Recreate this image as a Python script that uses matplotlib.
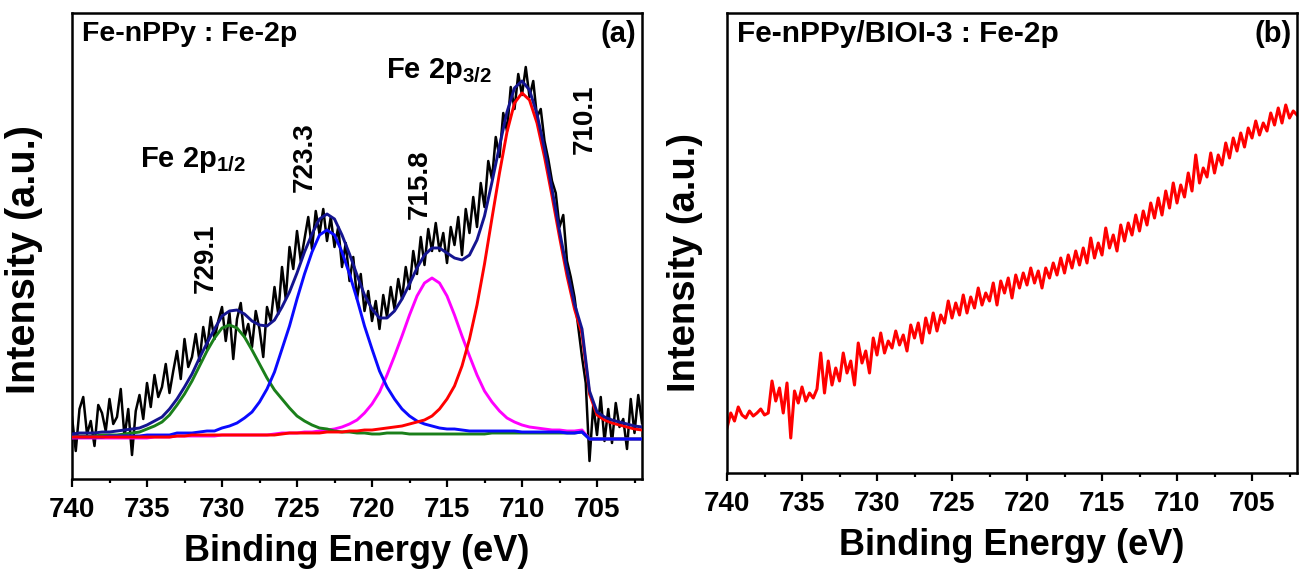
import numpy as np
import matplotlib
matplotlib.use("Agg")
import matplotlib.pyplot as plt
from matplotlib.ticker import MultipleLocator

plt.rcParams['font.family'] = ['Liberation Sans', 'DejaVu Sans']
plt.rcParams['font.weight'] = 'bold'
plt.rcParams['mathtext.fontset'] = 'custom'
plt.rcParams['mathtext.rm'] = 'Liberation Sans:bold'
plt.rcParams['mathtext.it'] = 'Liberation Sans:bold'
plt.rcParams['mathtext.bf'] = 'Liberation Sans:bold'

# ---------------- data (binding energy in eV, intensity in a.u.) ----------------
# fitted curves, sampled every 0.5 eV from 740 to 702
fit_energy = [740 - 0.5 * i for i in range(77)]

green_729 = [43, 43, 43, 43, 44, 44, 44, 45, 46, 47, 50, 53, 57, 64, 74, 85, 98, 113, 128, 141,
             151, 154, 151, 142, 129, 115, 101, 89, 80, 71, 63, 58, 54, 51, 50, 48, 47, 47, 46, 46,
             45, 45, 46, 46, 46, 45, 45, 45, 45, 45, 45, 45, 45, 45, 45, 45, 46, 46, 46, 46,
             46, 46, 46, 46, 46, 46, 46, 46, 47, 40, 40, 40, 40, 40, 40, 40, 40]
blue_723 = [42, 42, 42, 42, 42, 43, 43, 43, 43, 43, 44, 44, 44, 44, 46, 46, 46, 47, 48, 48,
            51, 53, 56, 61, 67, 77, 90, 107, 130, 153, 180, 205, 227, 244, 249, 244, 227, 205, 180, 153,
            130, 108, 92, 80, 70, 63, 58, 55, 53, 51, 50, 50, 49, 48, 48, 48, 48, 48, 48, 48,
            47, 47, 47, 47, 47, 47, 46, 46, 47, 40, 40, 40, 40, 40, 40, 40, 40]
magenta_716 = [41, 41, 41, 41, 41, 41, 41, 41, 41, 41, 41, 42, 42, 42, 43, 43, 43, 43, 43, 43,
               44, 44, 44, 44, 44, 44, 44, 45, 46, 46, 46, 47, 47, 48, 49, 50, 52, 55, 59, 66,
               75, 87, 104, 123, 143, 164, 183, 196, 201, 196, 183, 164, 143, 123, 104, 88, 77, 68, 61, 57,
               54, 52, 51, 50, 49, 49, 48, 48, 49, 40, 40, 40, 40, 40, 40, 40, 40]
red_710 = [42, 42, 42, 42, 42, 42, 42, 42, 42, 42, 42, 42, 42, 42, 43, 43, 44, 44, 44, 44,
           44, 44, 44, 44, 44, 44, 44, 44, 45, 46, 46, 46, 46, 46, 47, 47, 47, 48, 48, 49,
           49, 50, 51, 52, 53, 55, 57, 59, 63, 70, 80, 93, 113, 140, 174, 215, 261, 306, 347, 376,
           386, 379, 356, 322, 283, 242, 203, 170, 145, 85, 64, 59, 56, 54, 52, 50, 49]
envelope = [45, 46, 46, 46, 47, 47, 48, 49, 50, 51, 54, 58, 62, 70, 80, 92, 105, 121, 136, 150,
            163, 168, 169, 165, 158, 154, 153, 159, 172, 187, 206, 227, 245, 260, 265, 260, 244, 225, 204, 184,
            170, 161, 161, 168, 180, 195, 211, 224, 231, 231, 226, 221, 219, 224, 239, 263, 297, 333, 367, 391,
            398, 389, 365, 330, 290, 248, 209, 175, 150, 88, 67, 62, 59, 57, 55, 53, 52]

# measured spectra, sampled every 0.25 eV from 740 to 702
raw_energy = [740 - 0.25 * i for i in range(153)]

fe_nppy_raw = [62, 28, 70, 82, 45, 58, 33, 74, 66,
               48, 80, 55, 62, 90, 42, 70, 24,
               68, 84, 60, 96, 72, 104, 82, 92,
               115, 86, 108, 128, 100, 140, 112, 122,
               145, 118, 152, 130, 162, 140, 158, 172,
               138, 166, 120, 160, 176, 142, 155, 132,
               168, 150, 122, 172, 158, 192, 165, 212,
               180, 232, 210, 248, 218, 240, 262, 230,
               268, 245, 270, 238, 262, 232, 252, 212,
               236, 198, 222, 180, 205, 168, 188, 158,
               178, 150, 184, 162, 192, 170, 200, 180,
               212, 190, 228, 205, 242, 214, 250, 228,
               256, 228, 246, 216, 252, 234, 262, 224,
               270, 246, 282, 252, 296, 272, 318, 300,
               342, 322, 366, 348, 392, 370, 405, 384,
               412, 382, 398, 362, 370, 338, 320, 298,
               286, 252, 264, 218, 202, 182, 152, 122,
               96, 18, 74, 44, 82, 38, 70, 36,
               76, 52, 60, 30, 80, 46, 84, 56]

fe_nppy_bioi_raw = [45, 60, 52, 66, 58, 55, 62, 57, 60, 64, 58, 60, 92, 72, 85, 60, 90, 35, 82, 70,
                    86, 72, 80, 75, 84, 120, 80, 112, 88, 105, 92, 120, 100, 112, 88, 130, 110, 122, 100, 135,
                    118, 140, 120, 132, 125, 142, 128, 138, 122, 148, 135, 150, 130, 155, 140, 160, 142, 158, 150, 172,
                    155, 170, 158, 178, 160, 176, 165, 185, 168, 180, 172, 190, 168, 192, 180, 195, 175, 198, 185, 200,
                    188, 205, 190, 202, 185, 205, 195, 210, 198, 215, 200, 218, 205, 222, 208, 225, 210, 235, 215, 230,
                    218, 245, 225, 238, 222, 248, 232, 250, 238, 258, 242, 262, 248, 270, 255, 275, 258, 282, 265, 290,
                    270, 288, 276, 300, 282, 318, 290, 305, 296, 320, 300, 318, 308, 330, 315, 335, 322, 340, 326, 345,
                    335, 352, 338, 350, 342, 360, 348, 365, 350, 368, 355, 362, 358]

x_ticks = [740, 735, 730, 725, 720, 715, 710, 705]

peak_labels = ["729.1", "723.3", "715.8", "710.1"]
peak_label_pos = [(731.1, 221), (724.5, 322), (716.8, 295), (705.8, 360)]

# ---------------- figure ----------------
W, H = 1302, 571
fig = plt.figure(figsize=(W / 100, H / 100), dpi=100)
ax1 = fig.add_axes([72 / W, (H - 479) / H, 570 / W, 466 / H])
ax2 = fig.add_axes([727 / W, (H - 473) / H, 570 / W, 460 / H])

lw_c = 2.1
ax1.plot(raw_energy, fe_nppy_raw, color='black', lw=1.8, zorder=2)
ax1.plot(fit_energy, magenta_716, color='#ff00ff', lw=lw_c, zorder=3)
ax1.plot(fit_energy, green_729, color='#1a7f1a', lw=lw_c, zorder=3)
ax1.plot(fit_energy, blue_723, color='#0a0aff', lw=lw_c, zorder=3)
ax1.plot(fit_energy, red_710, color='#ff0000', lw=lw_c, zorder=3)
ax1.plot(fit_energy, envelope, color='#141490', lw=lw_c, zorder=4)
ax1.set_ylim(0, 466)

ax2.plot(raw_energy, fe_nppy_bioi_raw, color='#ff0000', lw=2.2)
ax2.set_ylim(0, 460)

for ax, ylx, ylfs, yly in ((ax1, -0.051, 28.5, 0.47), (ax2, -0.042, 27.5, 0.457)):
    ax.set_xlim(740, 702)
    ax.set_xticks(x_ticks)
    ax.xaxis.set_minor_locator(MultipleLocator(2.5))
    ax.set_yticks([])
    ax.tick_params(axis='x', which='major', direction='out', length=6, width=1.6,
                   labelsize=20, pad=7)
    ax.tick_params(axis='x', which='minor', direction='out', length=3, width=1.6)
    for lab in ax.get_xticklabels():
        lab.set_fontweight('bold')
    for s in ax.spines.values():
        s.set_linewidth(1.8)
    ax.set_xlabel('Binding Energy (eV)', fontsize=26, fontweight='bold', labelpad=8)
    ax.set_ylabel('Intensity (a.u.)', fontsize=ylfs, fontweight='bold')
    ax.yaxis.set_label_coords(ylx, yly)

ax1.text(0.018, 0.955, 'Fe-nPPy : Fe-2p', transform=ax1.transAxes, fontsize=20.5,
         fontweight='bold', ha='left', va='center')
ax1.text(0.99, 0.955, '(a)', transform=ax1.transAxes, fontsize=21,
         fontweight='bold', ha='right', va='center')
ax2.text(0.018, 0.955, 'Fe-nPPy/BIOI-3 : Fe-2p', transform=ax2.transAxes, fontsize=21.5,
         fontweight='bold', ha='left', va='center')
ax2.text(0.99, 0.955, '(b)', transform=ax2.transAxes, fontsize=21,
         fontweight='bold', ha='right', va='center')

ax1.text(719.1, 401, r'Fe 2p$_{3/2}$', fontsize=21, fontweight='bold', ha='left', va='baseline')
ax1.text(735.5, 312, r'Fe 2p$_{1/2}$', fontsize=21, fontweight='bold', ha='left', va='baseline')
for lab, (xx, yy) in zip(peak_labels, peak_label_pos):
    ax1.text(xx, yy, lab, fontsize=20, fontweight='bold', rotation=90,
             ha='center', va='center')

fig.savefig('out.png', dpi=100)
